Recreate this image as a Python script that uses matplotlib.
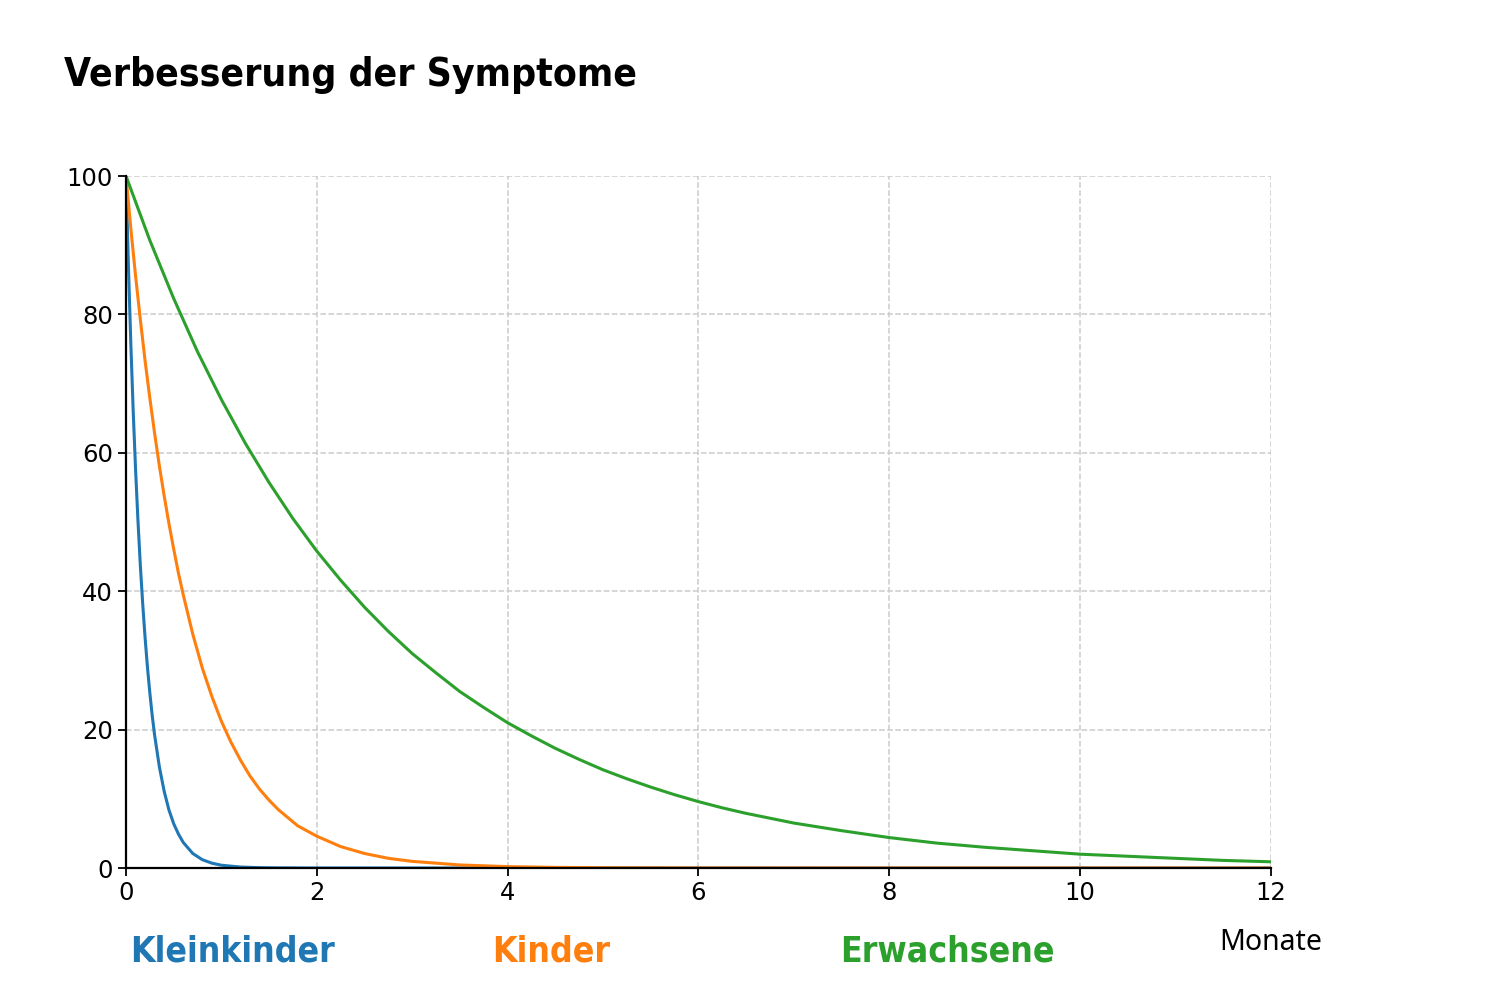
import matplotlib
matplotlib.use("Agg")
import matplotlib.pyplot as plt

# Werte (Monate -> Symptome in %)
x_klein = [0, 0.025, 0.05, 0.075, 0.1, 0.125, 0.15, 0.175, 0.2, 0.225, 0.25, 0.275, 0.3, 0.35, 0.4, 0.45,
           0.5, 0.55, 0.6, 0.7, 0.8, 0.9, 1.0, 1.2, 1.4, 1.6, 2, 4, 6, 8, 10, 12]
y_klein = [100, 87.2, 76.0, 66.2, 57.7, 50.3, 43.8, 38.2, 33.3, 29.0, 25.3, 22.0, 19.2, 14.6, 11.1, 8.4,
           6.4, 4.9, 3.7, 2.1, 1.2, 0.7, 0.4, 0.14, 0.05, 0.02, 0, 0, 0, 0, 0, 0]

x_kinder = [0, 0.05, 0.1, 0.15, 0.2, 0.25, 0.3, 0.35, 0.4, 0.45, 0.5, 0.55, 0.6, 0.7, 0.8, 0.9, 1.0,
            1.1, 1.2, 1.3, 1.4, 1.5, 1.6, 1.8, 2.0, 2.25, 2.5, 2.75, 3.0, 3.5, 4, 4.5, 5, 6, 8, 12]
y_kinder = [100, 92.5, 85.6, 79.3, 73.3, 67.9, 62.8, 58.1, 53.8, 49.8, 46.1, 42.6, 39.5, 33.8, 28.9, 24.8, 21.2,
            18.2, 15.6, 13.3, 11.4, 9.8, 8.4, 6.1, 4.6, 3.1, 2.1, 1.4, 0.96, 0.44, 0.2, 0.09, 0.04, 0.01, 0, 0]

x_erw = [0, 0.25, 0.5, 0.75, 1, 1.25, 1.5, 1.75, 2, 2.25, 2.5, 2.75, 3, 3.25, 3.5, 3.75, 4, 4.25, 4.5, 4.75,
         5, 5.25, 5.5, 5.75, 6, 6.25, 6.5, 6.75, 7, 7.5, 8, 8.5, 9, 9.5, 10, 10.5, 11, 11.5, 12]
y_erw = [100, 90.7, 82.3, 74.6, 67.7, 61.4, 55.7, 50.5, 45.8, 41.6, 37.7, 34.2, 31.0, 28.2, 25.5, 23.2, 21.0, 19.1, 17.3, 15.7,
         14.2, 12.9, 11.7, 10.6, 9.6, 8.7, 7.9, 7.2, 6.5, 5.4, 4.4, 3.6, 3.0, 2.5, 2.0, 1.7, 1.4, 1.1, 0.9]

gruppen = ["Kleinkinder", "Kinder", "Erwachsene"]
farben = ["#1f77b4", "#ff7f0e", "#2ca02c"]
x_ticks = [0, 2, 4, 6, 8, 10, 12]
y_ticks = [0, 20, 40, 60, 80, 100]

fig = plt.figure(figsize=(15, 10), dpi=100)
ax = fig.add_axes([0.084, 0.132, 0.763, 0.692])

for xs, ys, c in zip([x_klein, x_kinder, x_erw], [y_klein, y_kinder, y_erw], farben):
    ax.plot(xs, ys, color=c, linewidth=2.2, solid_joinstyle="round")

ax.set_xlim(0, 12)
ax.set_ylim(0, 100)
ax.set_xticks(x_ticks)
ax.set_yticks(y_ticks)
ax.tick_params(labelsize=17.5, length=6, width=1.3)
ax.grid(True, linestyle="--", color="#cccccc", linewidth=1.1)
ax.spines["top"].set_visible(False)
ax.spines["right"].set_visible(False)
ax.spines["left"].set_linewidth(1.6)
ax.spines["bottom"].set_linewidth(1.6)

fig.text(0.043, 0.925, "Verbesserung der Symptome", fontsize=28, fontweight="bold",
         fontstretch="condensed", family="DejaVu Sans", va="center", ha="left")

label_x = [0.087, 0.328, 0.56]
for name, c, lx in zip(gruppen, farben, label_x):
    fig.text(lx, 0.048, name, color=c, fontsize=25.5, fontweight="bold",
             fontstretch="condensed", family="DejaVu Sans", va="center", ha="left")

fig.text(0.847, 0.057, "Monate", fontsize=20.5, family="Noto Sans", va="center", ha="center")

plt.savefig("out.png", dpi=100)
